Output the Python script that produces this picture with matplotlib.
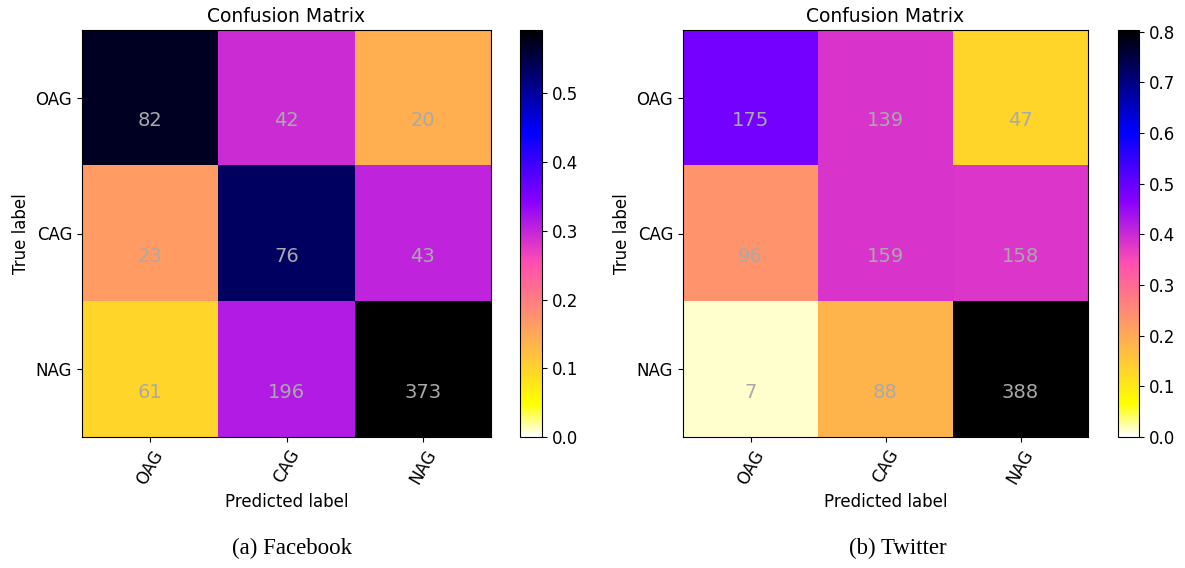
import numpy as np
import matplotlib.pyplot as plt

classes = ['OAG', 'CAG', 'NAG']

# counts (rows = true, cols = predicted)
facebook_counts = [[82, 42, 20],
                   [23, 76, 43],
                   [61, 196, 373]]
twitter_counts = [[175, 139, 47],
                  [96, 159, 158],
                  [7, 88, 388]]

captions = ['(a) Facebook', '(b) Twitter']


def draw_cm(ax, cax, counts):
    cm = np.array(counts, dtype=float)
    # colours come from the row-normalised matrix, the text shows raw counts
    cm_norm = cm / cm.sum(axis=1, keepdims=True)
    im = ax.imshow(cm_norm, interpolation='nearest', cmap='gnuplot2_r',
                   vmin=0, vmax=cm_norm.max(), aspect='auto')
    ax.set_title('Confusion Matrix', fontsize=13.5)
    cb = plt.colorbar(im, cax=cax)
    cb.ax.tick_params(labelsize=12)
    ticks = np.arange(len(classes))
    ax.set_xticks(ticks)
    ax.set_xticklabels(classes, rotation=60, fontsize=12)
    ax.set_yticks(ticks)
    ax.set_yticklabels(classes, fontsize=12)
    for i in range(cm.shape[0]):
        for j in range(cm.shape[1]):
            ax.text(j, i + 0.17, f'{int(cm[i, j])}', ha='center', va='center',
                    color='darkgray', fontsize=14)
    ax.set_ylabel('True label', fontsize=12)
    ax.set_xlabel('Predicted label', fontsize=12)


fig = plt.figure(figsize=(11.85, 5.68), dpi=100)
W, H = 1185, 568

# pixel boxes of each panel and its colorbar
panels = [
    (82, 491, 520, 542, 292),
    (683, 1088, 1118, 1139, 898),
]
top, bottom = 30, 437

for (x0, x1, c0, c1, cx), counts, cap in zip(panels, [facebook_counts, twitter_counts], captions):
    ax = fig.add_axes([x0 / W, 1 - bottom / H, (x1 - x0) / W, (bottom - top) / H])
    cax = fig.add_axes([c0 / W, 1 - bottom / H, (c1 - c0) / W, (bottom - top) / H])
    draw_cm(ax, cax, counts)
    fig.text(cx / W, 1 - 548 / H, cap, ha='center', va='center',
             family='Liberation Serif', fontsize=16.5)

plt.savefig('out.png', dpi=100)
plt.close()
